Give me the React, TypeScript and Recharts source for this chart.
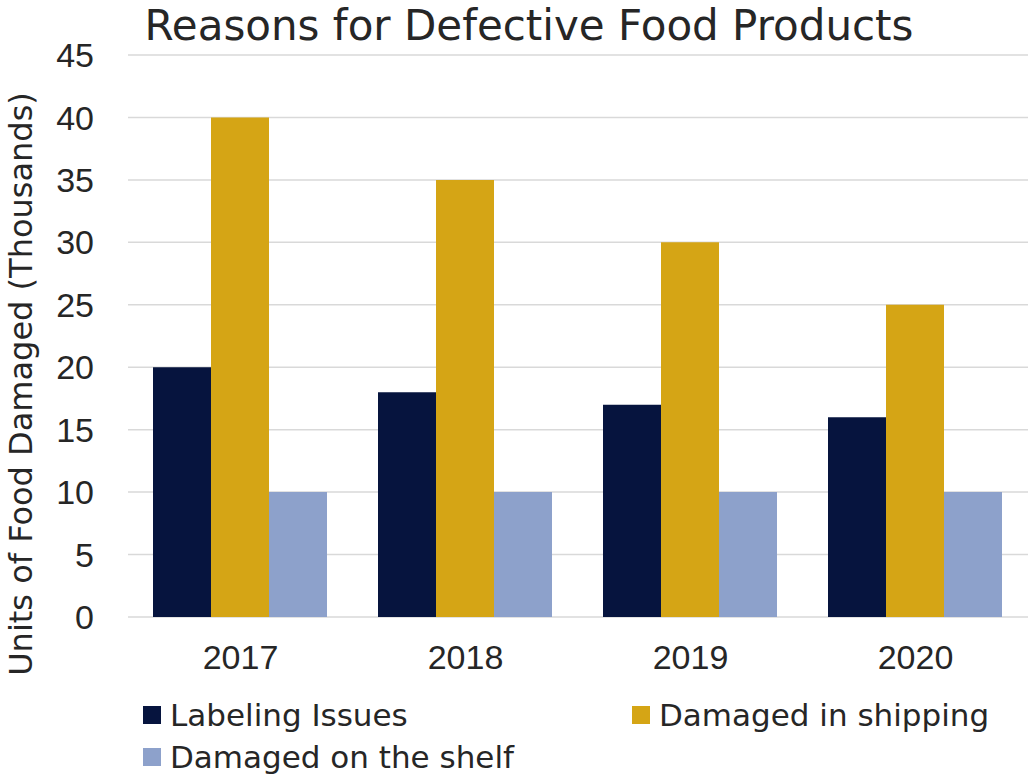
import React from 'react';
import { BarChart, Bar, XAxis, YAxis, CartesianGrid, Legend } from 'recharts';

const categories = ['2017', '2018', '2019', '2020'];
const labelingIssues = [20, 18, 17, 16];
const damagedInShipping = [40, 35, 30, 25];
const damagedOnShelf = [10, 10, 10, 10];
const yTicks = [0, 5, 10, 15, 20, 25, 30, 35, 40, 45];

const seriesNames = ['Labeling Issues', 'Damaged in shipping', 'Damaged on the shelf'];
const seriesColors = ['#06143e', '#d5a515', '#8da1cb'];

const data = categories.map((year, i) => ({
  year,
  labeling: labelingIssues[i],
  shipping: damagedInShipping[i],
  shelf: damagedOnShelf[i],
}));

const TEXT = '#262626';
const WIDE_FONT = '"DejaVu Sans", Verdana, sans-serif';
const TICK_FONT = '"Liberation Sans", Arial, sans-serif';

const LegendContent = (props: any) => {
  const payload = [...(props.payload || [])].sort(
    (a: any, b: any) => seriesNames.indexOf(a.value) - seriesNames.indexOf(b.value)
  );
  return (
    <div
      style={{
        height: 101,
        width: 1028,
        boxSizing: 'border-box',
        paddingTop: 21,
        paddingLeft: 143,
        display: 'grid',
        gridTemplateColumns: '489px 396px',
        gridAutoRows: '42px',
      }}
    >
      {payload.map((p: any) => (
        <div key={p.value} style={{ height: 42, display: 'flex', alignItems: 'center' }}>
          <div style={{ width: 18, height: 18, background: p.color, marginRight: 9, flex: 'none' }} />
          <span style={{ fontFamily: WIDE_FONT, fontSize: 31, color: TEXT, whiteSpace: 'nowrap', lineHeight: 1 }}>{p.value}</span>
        </div>
      ))}
    </div>
  );
};

const YTitle = (props: any) => {
  const vb = props.viewBox || {};
  const x = vb.x + 32;
  const y = vb.y + vb.height / 2 + 48;
  return (
    <text x={x} y={y} transform={`rotate(-90 ${x} ${y})`} textAnchor="middle" fill={TEXT} fontFamily={WIDE_FONT} fontSize={32}>
      Units of Food Damaged (Thousands)
    </text>
  );
};

export default function App() {
  return (
    <div style={{ position: 'absolute', left: 0, top: 0, width: 1028, height: 774, background: '#fff' }}>
      <BarChart width={1028} height={774} data={data} margin={{ top: 55, right: 0, left: 0, bottom: 0 }} barCategoryGap={25} barGap={0}>
        <CartesianGrid vertical={false} stroke="#d9d9d9" strokeWidth={1.5} />
        <XAxis
          dataKey="year"
          height={56}
          axisLine={false}
          tickLine={false}
          tickSize={0}
          tickMargin={28}
          tick={{ fill: TEXT, fontSize: 34, fontFamily: TICK_FONT }}
        />
        <YAxis
          width={128}
          domain={[0, 45]}
          ticks={yTicks}
          interval={0}
          axisLine={false}
          tickLine={false}
          tickSize={0}
          tickMargin={34}
          tick={{ fill: TEXT, fontSize: 34, fontFamily: TICK_FONT }}
          label={{ content: YTitle }}
        />
        <Legend verticalAlign="bottom" itemSorter={null as any} wrapperStyle={{ left: 0, bottom: 0, width: 1028, height: 101 }} content={LegendContent} />
        <Bar dataKey="labeling" name={seriesNames[0]} fill={seriesColors[0]} isAnimationActive={false} />
        <Bar dataKey="shipping" name={seriesNames[1]} fill={seriesColors[1]} isAnimationActive={false} />
        <Bar dataKey="shelf" name={seriesNames[2]} fill={seriesColors[2]} isAnimationActive={false} />
      </BarChart>
      <svg width={1028} height={60} style={{ position: 'absolute', left: 0, top: 0, pointerEvents: 'none' }}>
        <text x={529} y={40} textAnchor="middle" fill={TEXT} fontFamily={WIDE_FONT} fontSize={42}>
          Reasons for Defective Food Products
        </text>
      </svg>
    </div>
  );
}
